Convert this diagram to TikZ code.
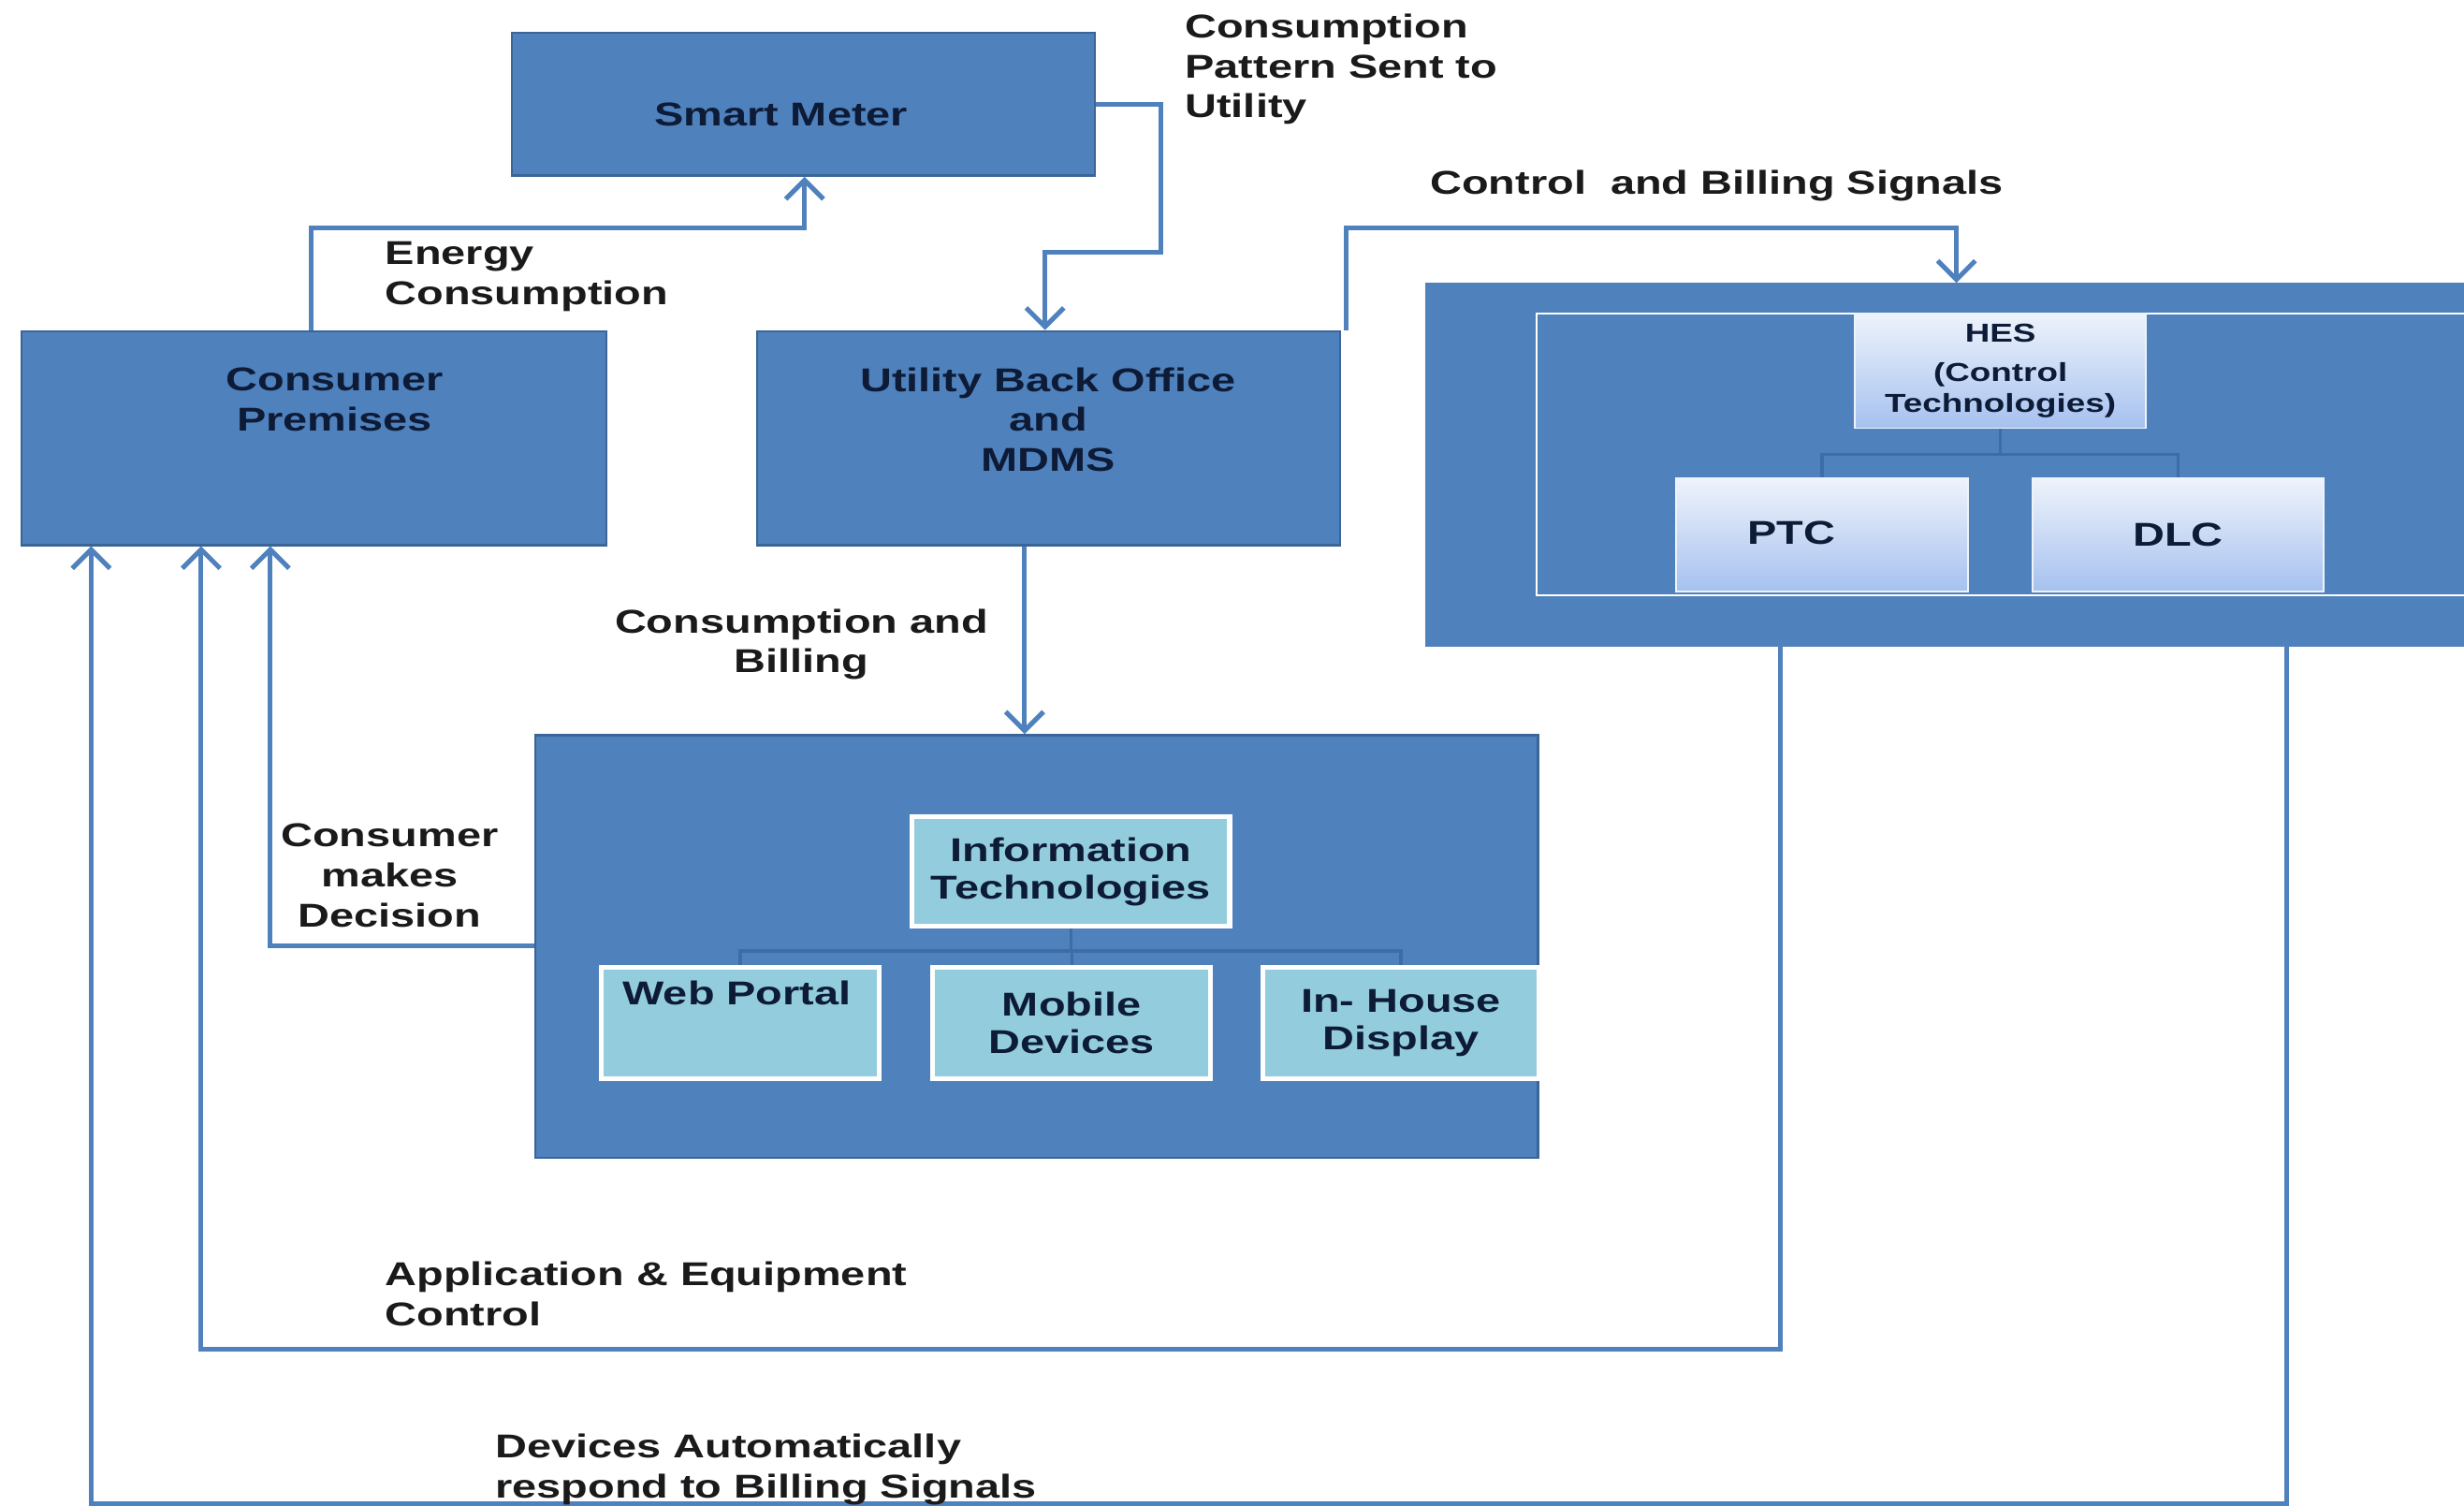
\documentclass[tikz,border=0pt]{standalone}
\usepackage{fontspec}
\newfontfamily\wide{Liberation Sans}[FakeStretch=1.33]
\usetikzlibrary{arrows.meta}
\definecolor{boxblue}{HTML}{4F81BD}
\definecolor{boxborder}{HTML}{3A6596}
\definecolor{linkblue}{HTML}{4F81BD}
\definecolor{treeblue}{HTML}{3E6DA6}
\definecolor{navy}{HTML}{0D1B36}
\definecolor{labelcol}{HTML}{1A1A1A}
\definecolor{itfill}{HTML}{93CDDD}
\definecolor{hestop}{HTML}{EEF3FB}
\definecolor{hesbot}{HTML}{A6C1EF}
\begin{document}
\begin{tikzpicture}[x=1pt,y=-1pt,
  bigbox/.style={draw=boxborder,fill=boxblue,line width=1.5pt,inner sep=0pt,anchor=north west},
  itbox/.style={draw=white,fill=itfill,line width=3pt,inner sep=0pt,anchor=north west,
     font=\wide\bfseries\fontsize{21}{24}\selectfont,text=navy,align=center},
  hesbox/.style={draw=hestop,top color=hestop,bottom color=hesbot,line width=1pt,inner sep=0pt,anchor=north west,
     font=\wide\bfseries\fontsize{21}{24}\selectfont,text=navy,align=center},
  btxt/.style={font=\wide\bfseries\fontsize{21}{25.5}\selectfont,text=navy,align=center,inner sep=0pt},
  lbl/.style={font=\wide\bfseries\fontsize{21}{25.5}\selectfont,text=labelcol,align=left,inner sep=0pt},
  conn/.style={draw=linkblue,line width=3pt,-{Straight Barb[length=12pt,width=24pt]}},
  tree/.style={draw=treeblue,line width=2pt}]
\useasboundingbox (0,0) rectangle (1568,958);
\clip (0,0) rectangle (1568,958);
\fill[white] (0,0) rectangle (1568,958);

% main boxes
\node[bigbox,minimum width=371pt,minimum height=91pt] (sm) at (325,20) {};
\node[btxt] (smt) at (497,73) {Smart Meter};
\node[bigbox,minimum width=372pt,minimum height=136pt] (cp) at (13,210) {};
\node[btxt] (cpt) at (213,254) {Consumer\\Premises};
\node[bigbox,minimum width=371pt,minimum height=136pt] (ubo) at (481,210) {};
\node[btxt] (ubot) at (667,267) {Utility Back Office\\and\\MDMS};

% HES group
\node[bigbox,draw=boxblue,minimum width=680pt,minimum height=230pt] (hesout) at (907,180) {};
\node[draw=white,line width=1.2pt,inner sep=0pt,anchor=north west,minimum width=620pt,minimum height=179pt] (hesframe) at (977,199) {};
\node[hesbox,minimum width=185pt,minimum height=73pt,font=\wide\bfseries\fontsize{16.5}{20}\selectfont] (hes) at (1180,199) {HES\\[5pt](Control\\Technologies)};
\node[hesbox,minimum width=186pt,minimum height=72pt] (ptc) at (1066,304) {};
\node[btxt] (ptct) at (1140,339) {PTC};
\node[hesbox,minimum width=185pt,minimum height=72pt] (dlc) at (1293,304) {DLC};
\draw[tree] (hes.south) -- ++(0,16) -| (ptc.north);
\draw[tree] (hes.south) -- ++(0,16) -| (dlc.north);

% Information technologies group
\node[bigbox,minimum width=638pt,minimum height=269pt] (itout) at (340,467) {};
\node[itbox,minimum width=202pt,minimum height=70pt] (it) at (579,518) {Information\\Technologies};
\node[itbox,minimum width=177pt,minimum height=71pt] (wp) at (381,614) {};
\node[btxt] (wpt) at (469,632) {Web Portal};
\node[itbox,minimum width=177pt,minimum height=71pt] (mob) at (592,614) {Mobile\\Devices};
\node[itbox,minimum width=176pt,minimum height=71pt] (ihd) at (802,614) {In- House\\Display};
\draw[tree] (it.south) -- ++(0,14) -| (wp.north);
\draw[tree] (it.south) -- ++(0,14) -| (mob.north);
\draw[tree] (it.south) -- ++(0,14) -| (ihd.north);

% connectors
\draw[conn] ([xshift=185pt]cp.north west) -- ++(0,-65) -| ([xshift=187pt]sm.south west);
\draw[conn] (sm.east) -- ++(41,0) -- ++(0,94.5) -| ([xshift=184pt]ubo.north west);
\draw[conn] ([xshift=3pt]ubo.north east) -- ++(0,-65) -| ([xshift=338pt]hesout.north west);
\draw[conn] ([xshift=171pt]ubo.south west) -- ([xshift=312pt]itout.north west);
\draw[conn] ([yshift=-135pt]itout.north west) -| ([xshift=159pt]cp.south west);
\draw[conn] ([xshift=226pt]hesout.south west) -- ++(0,447) -| ([xshift=115pt]cp.south west);
\draw[conn] ([xshift=548pt]hesout.south west) -- ++(0,545) -| ([xshift=45pt]cp.south west);

% labels
\node[lbl,anchor=west] (lpat) at (754,44) {Consumption\\Pattern Sent to\\Utility};
\node[lbl,anchor=west] (lctrl) at (910,118) {Control\ \ and Billing Signals};
\node[lbl,anchor=west] (lene) at (245,176) {Energy\\Consumption};
\node[lbl,align=center] (lbill) at (510,410) {Consumption and\\Billing};
\node[lbl,align=center] (ldec) at (248,557) {Consumer\\makes\\Decision};
\node[lbl,anchor=west] (lapp) at (245,823) {Application \& Equipment\\Control};
\node[lbl,anchor=west] (ldev) at (315,935) {Devices Automatically\\respond to Billing Signals};
\end{tikzpicture}
\end{document}
